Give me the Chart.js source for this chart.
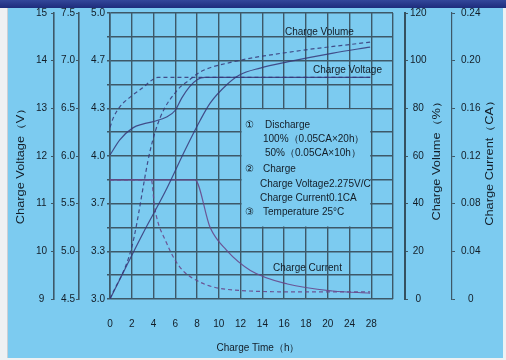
<!DOCTYPE html>
<html><head><meta charset="utf-8">
<script src="https://cdn.jsdelivr.net/npm/chart.js@4/dist/chart.umd.min.js"></script>
<style>html,body{margin:0;padding:0;background:#eef1f3;}canvas{display:block}</style>
</head><body>
<canvas id="c" width="506" height="360"></canvas>
<script>
// ---- tick labels ----
const xTickLabels = ['0','2','4','6','8','10','12','14','16','18','20','24','28'];
const cellTickLabels = ['3.0','','3.3','','3.7','','4.0','','4.3','','4.7','','5.0'];

// ---- series (hours, values) ----
const voltage100Hours = [0, 0.9, 2.1, 3.0, 4.1, 5.2, 6.0, 6.6, 7.3, 8.0, 8.7, 27.8];
const voltage100      = [12.02, 12.34, 12.59, 12.67, 12.73, 12.82, 12.96, 13.22, 13.45, 13.60, 13.65, 13.65];
const voltage50Hours  = [0, 0.3, 0.9, 2.1, 3.0, 3.9, 4.4, 27.8];
const voltage50       = [12.6, 12.8, 13.03, 13.28, 13.43, 13.6, 13.65, 13.65];

const volume100Hours  = [0, 3.0, 5.1, 6.9, 8.3, 9.2, 10.7, 11.9, 13.8, 16.3, 21, 27.8];
const volume100       = [0, 27.3, 45.3, 62.5, 75.1, 82.2, 89.8, 94, 96.9, 99.5, 103.2, 105.7];
const volume50Hours   = [0, 2.0, 3.7, 4.6, 6.2, 7.3, 8.3, 11.3, 16.5, 27.8];
const volume50        = [0, 21.8, 62.5, 76, 87.7, 91.9, 95.3, 99.5, 103.6, 107.8];

const current100Hours = [0, 7.8, 9.2, 10.7, 12.9, 16.3, 21, 27.8];
const current100      = [0.1, 0.1, 0.060, 0.041, 0.024, 0.0126, 0.0067, 0.005];
const current50Hours  = [0, 3.8, 4.1, 5.2, 6.4, 8.3, 11.3, 17.5, 27.8];
const current50       = [0.1, 0.1, 0.077, 0.047, 0.027, 0.014, 0.0076, 0.006, 0.006];

// time axis is drawn with equal spacing per tick label (0..20 step 2, then 24, 28)
function hourPos(h){ return h <= 20 ? h/2 : 10 + (h-20)/4; }
function pts(hs, vs){ return hs.map((h,i)=>({x:hourPos(h), y:vs[i]})); }

const FONT = '"Liberation Sans", Arial, sans-serif';
const TXT = '#131d27';
const GRID = '#3d5868';
const LINE = 'rgba(55,55,120,0.85)';
const LINE2 = 'rgba(104,72,140,0.9)';

function fit(w){ return s => { s.width = w; }; }

const bgPlugin = {
  id:'bg',
  beforeDraw(chart){
    const c = chart.ctx;
    c.save();
    c.fillStyle = '#eef1f3'; c.fillRect(0,0,506,360);
    c.fillStyle = '#7ccbf0'; c.fillRect(8,8,495,350);
    const g = c.createLinearGradient(0,0,0,8);
    g.addColorStop(0,'#33479a'); g.addColorStop(1,'#1d2c7c');
    c.fillStyle = g; c.fillRect(0,0,506,8);
    c.strokeStyle = '#c9d0d5'; c.lineWidth = 1;
    c.beginPath(); c.moveTo(7.5,8); c.lineTo(7.5,358); c.stroke();
    c.restore();
  },
  beforeDatasetsDraw(chart){
    const c = chart.ctx, xs = chart.scales.x, ys = chart.scales.yCell;
    const l = xs.getPixelForValue(6)+1, r = xs.getPixelForValue(12)-1;
    const t = ys.getPixelForValue(8)+1, b = ys.getPixelForValue(3)-1;
    c.save(); c.fillStyle = '#7ccbf0'; c.fillRect(l,t,r-l,b-t); c.restore();
  },
  afterDraw(chart){
    const c = chart.ctx;
    c.save();
    c.fillStyle = TXT;
    c.font = '10px ' + FONT;
    c.textBaseline = 'middle';
    const rot = (txt,x,y)=>{ c.save(); c.translate(x,y); c.rotate(-Math.PI/2); c.scale(1.28,1); c.textAlign='center'; c.fillText(txt,0,0); c.restore(); };
    rot('Charge Voltage（V）', 21, 163);
    rot('Charge Volume（%）', 437, 158);
    rot('Charge Current（CA）', 490, 160);
    c.textAlign = 'center';
    c.fillText('Charge Time（h）', 258, 348);
    c.textAlign = 'left';
    c.fillText('Charge Volume', 285, 32);
    c.fillText('Charge Voltage', 313, 70);
    c.fillText('Charge Current', 273, 268);
    c.fillText('①', 245, 125); c.fillText('Discharge', 265, 125);
    c.fillText('100%（0.05CA×20h）', 263, 139);
    c.fillText('50%（0.05CA×10h）', 265, 153);
    c.fillText('②', 245, 169); c.fillText('Charge', 263, 169);
    c.fillText('Charge Voltage2.275V/C', 260, 184);
    c.fillText('Charge Current0.1CA', 260, 198);
    c.fillText('③', 245, 212); c.fillText('Temperature 25°C', 263, 212);
    c.restore();
  }
};

const tickFont = {family: FONT, size: 10};

new Chart(document.getElementById('c'), {
  type: 'line',
  data: {
    datasets: [
      {label:'Charge Voltage 100%', data: pts(voltage100Hours, voltage100), yAxisID:'yV', borderColor: LINE, borderWidth:1.2},
      {label:'Charge Voltage 50%', data: pts(voltage50Hours, voltage50), yAxisID:'yV', borderColor: LINE, borderWidth:1.2, borderDash:[4,3]},
      {label:'Charge Volume 100%', data: pts(volume100Hours, volume100), yAxisID:'yVol', borderColor: LINE, borderWidth:1.2},
      {label:'Charge Volume 50%', data: pts(volume50Hours, volume50), yAxisID:'yVol', borderColor: LINE, borderWidth:1.2, borderDash:[4,3]},
      {label:'Charge Current 100%', data: pts(current100Hours, current100), yAxisID:'yCur', borderColor: LINE2, borderWidth:1.2},
      {label:'Charge Current 50%', data: pts(current50Hours, current50), yAxisID:'yCur', borderColor: LINE2, borderWidth:1.2, borderDash:[4,3]}
    ]
  },
  options: {
    responsive:false, animation:false, devicePixelRatio:1,
    layout:{padding:{left:8, right:4, top:13, bottom:4}},
    elements:{point:{radius:0}, line:{cubicInterpolationMode:'monotone', fill:false}},
    plugins:{legend:{display:false}, tooltip:{enabled:false}},
    scales:{
      x:{type:'linear', position:'bottom', min:0, max:13,
         ticks:{stepSize:1, autoSkip:false, maxRotation:0, color:TXT, font:tickFont, padding:19,
                callback:v=> xTickLabels[v] ?? ''},
         grid:{color:GRID, lineWidth:1.4, drawTicks:false},
         border:{display:false},
         afterFit:s=>{s.height = 57;}},
      yCell:{type:'linear', position:'left', min:0, max:12,
         ticks:{stepSize:1, autoSkip:false, color:TXT, font:tickFont, padding:2, crossAlign:'center',
                callback:v=> cellTickLabels[v] ?? ''},
         grid:{color:GRID, lineWidth:1.4, tickLength:3},
         border:{display:true, color:GRID, width:1.6},
         afterFit:fit(31)},
      yCell2:{type:'linear', position:'left', min:4.5, max:7.5,
         ticks:{stepSize:0.5, color:TXT, font:tickFont, padding:1, crossAlign:'center', callback:v=>v.toFixed(1)},
         grid:{drawOnChartArea:false, color:GRID, tickLength:3},
         border:{display:true, color:GRID, width:1.6},
         afterFit:fit(25)},
      yV:{type:'linear', position:'left', min:9, max:15,
         ticks:{stepSize:1, color:TXT, font:tickFont, padding:4, crossAlign:'center'},
         grid:{drawOnChartArea:false, color:GRID, tickLength:3},
         border:{display:true, color:GRID, width:1.6},
         afterFit:fit(46)},
      yPad:{type:'linear', position:'right', min:0, max:1,
         ticks:{display:false}, grid:{display:false}, border:{display:false},
         afterFit:fit(12)},
      yVol:{type:'linear', position:'right', min:0, max:120,
         ticks:{stepSize:20, color:TXT, font:tickFont, padding:2, crossAlign:'center'},
         grid:{drawOnChartArea:false, color:GRID, tickLength:3},
         border:{display:true, color:'#34505f', width:2},
         afterFit:fit(47)},
      yCur:{type:'linear', position:'right', min:0, max:0.24,
         ticks:{stepSize:0.04, color:TXT, font:tickFont, padding:6, crossAlign:'center',
                callback:v=> Math.abs(v)<1e-9 ? '0' : v.toFixed(2)},
         grid:{drawOnChartArea:false, color:GRID, tickLength:3},
         border:{display:true, color:GRID, width:1.2},
         afterFit:fit(50)}
    }
  },
  plugins:[bgPlugin]
});
</script>
</body></html>
